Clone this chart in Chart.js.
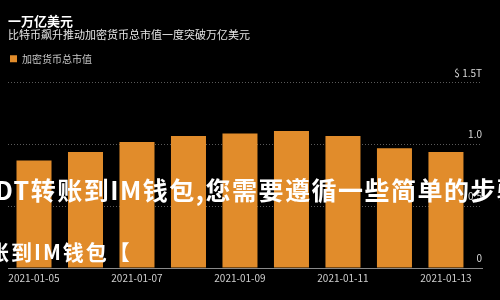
<!DOCTYPE html>
<html>
<head>
<meta charset="utf-8">
<script src="https://cdn.jsdelivr.net/npm/chart.js@4/dist/chart.umd.min.js"></script>
<style>
  body { margin: 0; background: #000; width: 500px; height: 300px; overflow: hidden; position: relative; }
  canvas { display: block; }
  .overlay {
    position: absolute;
    color: #fff;
    font-family: "Noto Sans CJK SC", sans-serif;
    font-weight: 700;
    line-height: 1;
    white-space: nowrap;
    pointer-events: none;
  }
  #line1 { left: -5px; top: 177px; font-size: 25px; letter-spacing: 1.5px; }
  #line2 { left: -12px; top: 241px; font-size: 21px; letter-spacing: 2px; }
</style>
</head>
<body>
<canvas id="chart" width="500" height="300"></canvas>
<div class="overlay" id="line1">DT转账到IM钱包,您需要遵循一些简单的步骤</div>
<div class="overlay" id="line2">账到IM钱包【</div>
<script>
// dados do grafico
const dates = ["2021-01-05", "2021-01-06", "2021-01-07", "2021-01-08", "2021-01-09",
  "2021-01-10", "2021-01-11", "2021-01-12", "2021-01-13"];
const marketCap = [0.87, 0.94, 1.02, 1.07, 1.09, 1.11, 1.07, 0.97, 0.94];
const yTickValues = [0, 0.5, 1.0, 1.5];
const yTickLabels = ["0", "0.5", "1.0", "$ 1.5T"];

Chart.defaults.font.family = '"Noto Sans CJK SC", "Open Sans", sans-serif';

// espaco extra abaixo da legenda
const legendGap = {
  id: "legendGap",
  beforeInit(chart) {
    const fit = chart.legend.fit;
    chart.legend.fit = function () {
      fit.bind(chart.legend)();
      this.height += 9;
    };
  },
};

new Chart(document.getElementById("chart"), {
  type: "bar",
  data: {
    datasets: [
      {
        label: "加密货币总市值",
        data: marketCap.map((v, i) => ({ x: i, y: v })),
        backgroundColor: "#E18C2B",
        borderWidth: 0,
        barPercentage: 0.68,
        categoryPercentage: 1,
      },
    ],
  },
  options: {
    responsive: false,
    animation: false,
    layout: { padding: { left: 8, right: 18, top: 0, bottom: 12 } },
    scales: {
      x: {
        type: "linear",
        offset: false,
        min: -0.505,
        max: 8.7,
        grid: { display: false, drawTicks: false, offset: false },
        border: { display: true, color: "#8a8a8a", width: 1 },
        ticks: {
          stepSize: 2,
          includeBounds: false,
          autoSkip: false,
          maxRotation: 0,
          padding: 4,
          color: "#cfcfcf",
          font: { size: 10 },
          callback: (v) => (Number.isInteger(v) && dates[v] ? dates[v] : ""),
        },
      },
      y: {
        position: "right",
        min: 0,
        max: 1.5,
        grid: {
          drawTicks: false,
          color: (ctx) => (ctx.tick && ctx.tick.value === 0 ? "transparent" : "#5a5a5a"),
        },
        border: { display: false, dash: [1, 2] },
        ticks: {
          stepSize: 0.5,
          mirror: true,
          padding: 0,
          labelOffset: -10,
          color: "#d8d8d8",
          font: { size: 10 },
          callback: (v) => {
            const idx = yTickValues.findIndex((t) => Math.abs(t - v) < 1e-6);
            return idx >= 0 ? yTickLabels[idx] : "";
          },
        },
      },
    },
    plugins: {
      title: {
        display: true,
        text: "一万亿美元",
        align: "start",
        color: "#ffffff",
        font: { size: 13, weight: "bold" },
        padding: { top: 13, bottom: 0 },
      },
      subtitle: {
        display: true,
        text: "比特币飙升推动加密货币总市值一度突破万亿美元",
        align: "start",
        color: "#e6e6e6",
        font: { size: 11 },
        padding: { top: 0, bottom: 10 },
      },
      legend: {
        display: true,
        align: "start",
        labels: {
          boxWidth: 7,
          boxHeight: 7,
          padding: 2,
          color: "#c8c8c8",
          font: { size: 10 },
        },
      },
      tooltip: { enabled: false },
    },
  },
  plugins: [legendGap],
});
</script>
</body>
</html>
